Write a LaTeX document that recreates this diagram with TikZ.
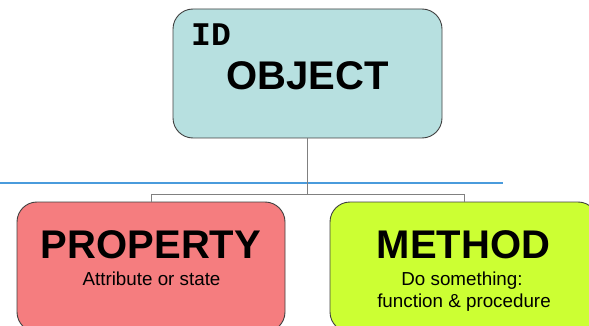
\documentclass[tikz,border=0pt]{standalone}
\usepackage{fontspec}
\setmainfont{Liberation Sans}
\newfontfamily\monobold{Liberation Mono}[BoldFont={* Bold}]
\definecolor{objfill}{HTML}{B7E0E0}
\definecolor{propfill}{HTML}{F57D7F}
\definecolor{methfill}{HTML}{CCFF33}
\definecolor{edge}{HTML}{404040}
\definecolor{wire}{HTML}{808080}
\definecolor{rule}{HTML}{4A9BDC}
\begin{document}
\begin{tikzpicture}[x=1pt,y=-1pt,
  card/.style={draw=edge,line width=0.9pt,rounded corners=20pt,inner sep=0pt},
  bigword/.style={font=\fontsize{40}{40}\selectfont\bfseries,anchor=base,inner sep=0pt},
  smallword/.style={font=\fontsize{18.8}{19}\selectfont,anchor=base,inner sep=0pt},
  link/.style={draw=wire,line width=0.9pt}]
\useasboundingbox (0,0) rectangle (589,326);
\clip (0,0) rectangle (589,326);

% boxes
\node[card,fill=objfill,minimum width=269pt,minimum height=129pt] (obj) at (307.5,73.5) {};
\node[card,fill=propfill,minimum width=268pt,minimum height=130pt] (prop) at (151,267) {};
\node[card,fill=methfill,minimum width=268pt,minimum height=130pt] (meth) at (464,267) {};

% labels
\node[font=\fontsize{33}{33}\selectfont\monobold\bfseries,anchor=base west,inner sep=0pt] (id) at (191,46) {ID};
\node[bigword] (objt) at (307.5,90) {OBJECT};
\node[bigword] (propt) at (151,258) {PROPERTY};
\node[smallword] (propd) at (151.5,285) {Attribute or state};
\node[bigword] (metht) at (463.5,258) {METHOD};
\node[smallword] (methd1) at (462,285.5) {Do something:};
\node[smallword] (methd2) at (464,307.7) {function \& procedure};

% separator line
\coordinate (ruleL) at (0,183);
\coordinate (ruleR) at (503,183);
\draw[rule,line width=2pt] (ruleL) -- (ruleR);

% tree connectors
\coordinate (hub) at (obj.south |- 0,194);
\coordinate (hubL) at (prop.north |- 0,194);
\coordinate (hubR) at (meth.north |- 0,194);
\draw[link] (obj.south) -- (hub);
\draw[link] (prop.north) -- (hubL) -- (hubR) -- (meth.north);
\end{tikzpicture}
\end{document}
